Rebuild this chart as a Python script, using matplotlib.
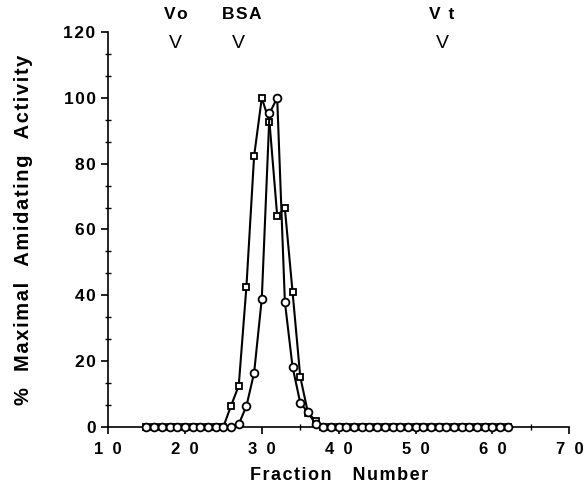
import numpy as np
import matplotlib
matplotlib.use('Agg')
import matplotlib.pyplot as plt
from matplotlib.ticker import MultipleLocator, AutoMinorLocator

plt.rcParams['font.family'] = ['Liberation Sans', 'DejaVu Sans']

# fraction numbers (x)
fractions = np.arange(15, 63)

# squares
act_square = [0, 0, 0, 0, 0, 0, 0, 0, 0, 0,
              0, 6.4, 12.5, 42.6, 82.3, 100, 92.6, 64.2, 66.4, 41.0, 15.2, 4.3, 1.8,
              0, 0, 0, 0, 0, 0, 0, 0, 0, 0, 0, 0, 0, 0, 0, 0, 0, 0, 0, 0, 0, 0, 0, 0, 0]

# circles
act_circle = [0, 0, 0, 0, 0, 0, 0, 0, 0, 0,
              0, 0, 0.8, 6.3, 16.4, 39.0, 95.3, 100, 38.0, 18.2, 7.3, 4.4, 0.8,
              0, 0, 0, 0, 0, 0, 0, 0, 0, 0, 0, 0, 0, 0, 0, 0, 0, 0, 0, 0, 0, 0, 0, 0, 0]

# column markers (Vo, BSA, Vt): label text and arrow position
marker_labels = ['Vo', 'BSA', 'V t']
marker_label_x = [18.8, 27.4, 53.4]
marker_pos = [18.7, 26.9, 53.5]

xticks = [10, 20, 30, 40, 50, 60, 70]
xtick_labels = ['1  0', '2  0', '3  0', '4  0', '5  0', '6  0', '7  0']
yticks = [0, 20, 40, 60, 80, 100, 120]


def track(s):
    # loose letter spacing like the old typesetting
    return '\u200a'.join(s)


fig = plt.figure(figsize=(5.87, 4.94), dpi=100)
ax = fig.add_axes([0.184, 0.136, 0.786, 0.799])

ax.plot(fractions, act_square, color='black', lw=1.5, marker='s', ms=5,
        mfc='white', mec='black', mew=1.3, clip_on=False, zorder=3)
ax.plot(fractions, act_circle, color='black', lw=1.5, marker='o', ms=5.6,
        mfc='white', mec='black', mew=1.3, clip_on=False, zorder=4)

ax.set_xlim(10, 70)
ax.set_ylim(0, 120)

ax.spines['top'].set_visible(False)
ax.spines['right'].set_visible(False)
ax.spines['left'].set_linewidth(1.2)
ax.spines['bottom'].set_linewidth(1.2)

ax.set_xticks(xticks)
ax.set_xticklabels(xtick_labels, fontsize=12, fontweight='bold')
ax.xaxis.set_minor_locator(MultipleLocator(5))
ax.set_yticks(yticks)
ax.set_yticklabels([track(str(v)) for v in yticks], fontsize=12.5, fontweight='bold')
ax.yaxis.set_minor_locator(AutoMinorLocator(3))

ax.tick_params(axis='both', which='major', direction='out', length=5, width=1.2)
ax.tick_params(axis='both', which='minor', direction='inout', length=4, width=1.0)
ax.tick_params(axis='x', which='major', pad=6)
ax.tick_params(axis='y', which='major', pad=4)

ax.set_xlabel(track('Fraction   Number'), fontsize=13, fontweight='bold', labelpad=7)
ax.set_ylabel(track('%  Maximal  Amidating  Activity'), fontsize=14.5, fontweight='bold')
ax.yaxis.set_label_coords(-0.163, 0.5)

for lab, lx, xp in zip(marker_labels, marker_label_x, marker_pos):
    ax.text(lx, 125.3, track(lab), ha='center', va='center', fontsize=12.5,
            fontweight='bold', clip_on=False)
    ax.text(xp, 116.6, 'V', ha='center', va='center', fontsize=14, clip_on=False)

fig.savefig('out.png', dpi=100)
